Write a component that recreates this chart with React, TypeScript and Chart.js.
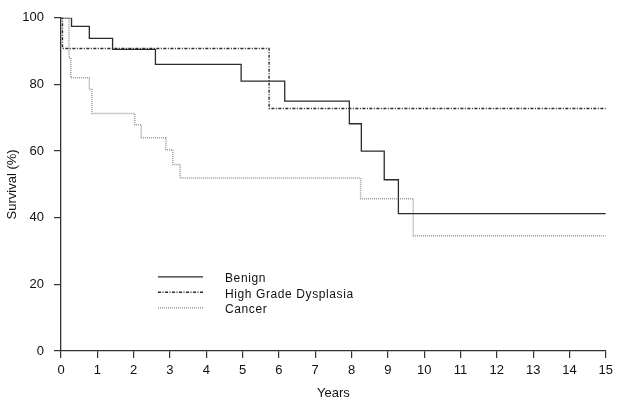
import React, { useEffect, useRef } from "react";
import { Chart, registerables } from "chart.js";

Chart.register(...registerables);

const benignYears = [0, 0.29, 0.78, 1.42, 2.6, 4.96, 6.16, 7.94, 8.27, 8.9, 9.29, 15];
const benignSurvival = [100, 97.4, 93.8, 90.5, 86, 81, 75, 68.2, 60, 51.4, 41.2, 41.2];

const hgdYears = [0, 0.04, 5.73, 15];
const hgdSurvival = [100, 90.8, 72.8, 72.8];

const cancerYears = [0, 0.22, 0.27, 0.78, 0.85, 2.03, 2.21, 2.89, 3.08, 3.28, 8.25, 9.7, 15];
const cancerSurvival = [100, 88, 82, 78.5, 71.3, 67.9, 64, 60.4, 56, 51.9, 45.7, 34.6, 34.6];

const seriesNames = ["Benign", "High Grade Dysplasia", "Cancer"];
const yTicks = [0, 20, 40, 60, 80, 100];
const xTicks = [0, 1, 2, 3, 4, 5, 6, 7, 8, 9, 10, 11, 12, 13, 14, 15];

const FONT = "'Liberation Sans', Arial, sans-serif";

const styles = [
  { color: "#2b2b2b", width: 1.3, dash: [] as number[] },
  { color: "#2b2b2b", width: 1.4, dash: [3, 1.5, 1, 1.5] },
  { color: "#9a9a9a", width: 1.5, dash: [1, 1] },
];

const toPts = (xs: number[], ys: number[]) => xs.map((x, i) => ({ x, y: ys[i] }));

const legendPlugin = {
  id: "kmLegend",
  afterDatasetsDraw(chart: any) {
    const ctx = chart.ctx;
    const { left, top } = chart.chartArea;
    ctx.save();
    chart.data.datasets.forEach((ds: any, i: number) => {
      const ly = top + 259 + i * 15.5;
      ctx.beginPath();
      ctx.strokeStyle = ds.borderColor;
      ctx.lineWidth = ds.borderWidth;
      ctx.setLineDash(ds.borderDash || []);
      ctx.moveTo(left + 97, ly);
      ctx.lineTo(left + 142, ly);
      ctx.stroke();
      ctx.setLineDash([]);
      ctx.fillStyle = "#111";
      ctx.font = `12px ${FONT}`;
      (ctx as any).letterSpacing = "0.6px";
      ctx.textBaseline = "middle";
      ctx.textAlign = "left";
      ctx.fillText(ds.label, left + 164, ly + 2);
      (ctx as any).letterSpacing = "0px";
    });
    ctx.restore();
  },
};

export default function App() {
  const ref = useRef<HTMLCanvasElement | null>(null);
  useEffect(() => {
    document.body.style.margin = "0";
    const canvas = ref.current!;
    const all = [
      toPts(benignYears, benignSurvival),
      toPts(hgdYears, hgdSurvival),
      toPts(cancerYears, cancerSurvival),
    ];
    const chart = new Chart(canvas, {
      type: "line",
      data: {
        datasets: all.map((d, i) => ({
          label: seriesNames[i],
          data: d,
          borderColor: styles[i].color,
          borderWidth: styles[i].width,
          borderDash: styles[i].dash,
          stepped: "before" as const,
          pointRadius: 0,
          fill: false,
        })),
      },
      options: {
        responsive: false,
        animation: false,
        layout: { padding: { top: 11, right: 10, left: 0, bottom: 0 } },
        plugins: { legend: { display: false }, tooltip: { enabled: false } },
        scales: {
          x: {
            type: "linear",
            min: 0,
            max: 15,
            afterFit: (s: any) => {
              s.height = 54;
            },
            afterBuildTicks: (s: any) => {
              s.ticks = xTicks.map((v) => ({ value: v }));
            },
            ticks: { color: "#111", font: { family: FONT, size: 13 }, padding: 5, maxRotation: 0, autoSkip: false },
            grid: { drawOnChartArea: false, drawTicks: true, tickLength: 7, color: "#333", lineWidth: 1.2 },
            border: { display: true, color: "#333", width: 1.3 },
            title: { display: true, text: "Years", color: "#111", font: { family: FONT, size: 13 }, padding: { top: 0, bottom: 4 } },
          },
          y: {
            min: 0,
            max: 100,
            afterFit: (s: any) => {
              s.width = 61;
            },
            afterBuildTicks: (s: any) => {
              s.ticks = yTicks.map((v) => ({ value: v }));
            },
            ticks: { color: "#111", font: { family: FONT, size: 13 }, padding: 10 },
            grid: { drawOnChartArea: false, drawTicks: true, tickLength: 7, color: "#333", lineWidth: 1.2 },
            border: { display: true, color: "#333", width: 1.3 },
            title: { display: true, text: "Survival (%)", color: "#111", font: { family: FONT, size: 13 }, padding: { top: 5, bottom: 0 } },
          },
        },
      },
      plugins: [legendPlugin],
    });
    return () => chart.destroy();
  }, []);
  return <canvas ref={ref} width={618} height={405} style={{ display: "block", width: 618, height: 405 }} />;
}
